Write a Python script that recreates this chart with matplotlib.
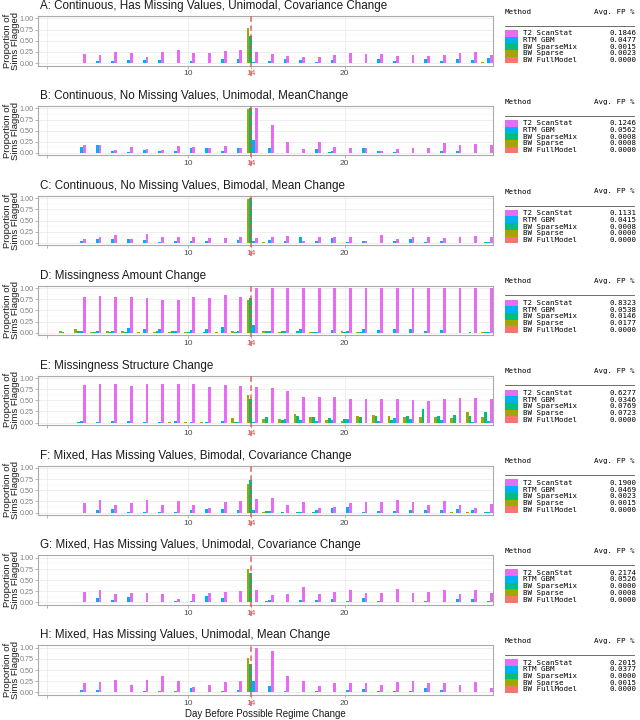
import numpy as np
import matplotlib
matplotlib.use("Agg")
import matplotlib.pyplot as plt
from matplotlib.patches import Rectangle
from matplotlib.lines import Line2D

plt.rcParams['font.family'] = ['Liberation Sans', 'DejaVu Sans']

days = np.arange(1, 30)
methods = ["BW FullModel", "BW Sparse", "BW SparseMix", "RTM GBM", "T2 ScanStat"]
colors = ["#F8766D", "#A3A500", "#00BF7D", "#00B0F6", "#E76BF3"]

titles = [
    "A: Continuous, Has Missing Values, Unimodal, Covariance Change",
    "B: Continuous, No Missing Values, Unimodal, MeanChange",
    "C: Continuous, No Missing Values, Bimodal, Mean Change",
    "D: Missingness Amount Change",
    "E: Missingness Structure Change",
    "F: Mixed, Has Missing Values, Bimodal, Covariance Change",
    "G: Mixed, Has Missing Values, Unimodal, Covariance Change",
    "H: Mixed, Has Missing Values, Unimodal, Mean Change",
]

# T2 ScanStat, days 1..29
scan_a = [0, 0, .20, .18, .25, .22, .13, .25, .29, .22, .22, .27, .29, .25, .20, .16, .13, .13, .18, .22, .20, .20, .16, .18, .16, .18, .22, .24, .17]
scan_b = [0, 0, .17, .17, .07, .13, .08, .07, .15, .13, .10, .16, .10, 1.0, .63, .24, .08, .24, .13, .12, .12, .05, .08, .10, .10, .22, .17, .20, .17]
scan_c = [0, 0, .08, .12, .17, .08, .20, .14, .14, .12, .10, .10, .14, .10, .14, .16, .05, .12, .12, .14, .05, .17, .08, .14, .12, .10, .12, .16, .14]
scan_d = [0, 0, .80, .82, .80, .80, .79, .74, .74, .80, .77, .85, .80, 1, 1, 1, 1, 1, 1, 1, 1, 1, 1, 1, 1, 1, 1, 1, 1]
scan_e = [0, 0, .85, .86, .86, .82, .86, .86, .86, .86, .81, .84, .82, .79, .78, .70, .58, .58, .58, .54, .54, .52, .52, .50, .48, .52, .56, .56, .54]
scan_f = [0, 0, .22, .28, .17, .22, .28, .16, .26, .16, .10, .24, .26, .30, .32, .16, .24, .10, .12, .22, .24, .24, .28, .24, .16, .26, .17, .10, .20]
scan_g = [0, 0, .24, .28, .18, .22, .22, .20, .08, .20, .22, .24, .26, .28, .17, .18, .35, .18, .24, .28, .22, .22, .30, .22, .24, .28, .18, .28, .22]
scan_h = [0, 0, .22, .24, .28, .16, .28, .36, .26, .12, .17, .24, .26, 1.0, .92, .36, .26, .14, .20, .22, .22, .17, .24, .26, .20, .20, .17, .24, .10]

# RTM GBM, days 1..29
gbm_a = [0, 0, .01, .04, .04, .06, .06, .06, .01, .04, 0, .10, .10, .03, .05, .09, .06, .02, .06, .01, .01, .09, .04, .01, .10, .04, .09, .06, .11]
gbm_b = [0, 0, .13, .17, .05, .03, .07, .05, .05, .10, .10, .05, .10, .30, .12, .01, .01, .08, .05, .01, .12, .04, .02, 0, 0, .05, .05, .01, 0]
gbm_c = [0, 0, .04, .08, .08, .08, .06, .01, .04, .05, .04, 0, .06, .05, .06, .04, .12, .04, .10, .01, .04, 0, .04, .08, .01, .04, 0, 0, .01]
gbm_d = [0, 0, .05, .05, .05, .10, .09, .08, .04, .06, .08, .13, .04, .18, .05, .04, .08, .01, .06, .04, .08, .06, .08, .08, .04, .06, 0, 0, .01]
gbm_e = [0, 0, .04, .02, .03, .03, .01, .01, .04, .01, .01, .04, .02, .01, 0, .08, .05, .03, .06, .08, 0, .04, .10, .08, 0, .06, 0, .01, .04]
gbm_f = [0, 0, 0, .05, .08, .01, .01, .01, .01, .05, .08, .08, .06, .05, .04, 0, .01, .05, .10, .12, .01, .04, .04, .05, .06, .06, .08, .06, .01]
gbm_g = [0, 0, .01, .10, .06, .12, .01, .01, .04, .04, .14, .09, 0, .01, .06, 0, .06, .06, .08, .04, .09, .04, .01, .01, .04, .01, .08, .08, .04]
gbm_h = [0, 0, .05, .05, 0, 0, .04, .04, .04, .10, .01, .04, .06, .26, .14, .04, .01, .04, 0, .06, .08, .04, .04, .04, .10, .06, .01, .01, 0]

# BW SparseMix, {day: value}, other days are 0
mix_a = {14: .60, 16: .01, 28: .01, 29: .01}
mix_b = {14: 1.0, 19: .02}
mix_c = {14: 1.0, 29: .01}
mix_d = {2: .01, 3: .03, 4: .01, 5: .02, 6: .01, 8: .04, 9: .04, 10: .01, 11: .01, 13: .01, 14: .78,
         15: .05, 16: .05, 17: .04, 18: .01, 20: .01, 21: .01, 28: .01, 29: .01}
mix_e = {3: .01, 13: .02, 14: .52, 15: .13, 16: .05, 17: .14, 18: .12, 19: .11, 20: .08, 21: .12, 22: .16,
         23: .07, 24: .14, 25: .30, 26: .14, 27: .17, 28: .16, 29: .24}
mix_f = {14: .72, 15: .04, 16: .01, 17: .01, 18: .01, 29: .01}
mix_g = {14: .66, 15: .04, 16: .01}
mix_h = {14: .64}

# BW Sparse
sparse_a = {14: .79, 15: .01, 17: .01, 18: .01, 29: .02}
sparse_b = {12: .01, 14: .98}
sparse_c = {14: .98, 15: .01}
sparse_d = {2: .04, 3: .08, 4: .01, 5: .04, 6: .04, 7: .02, 8: .01, 9: .01, 10: .01, 12: .01, 13: .04, 14: .74,
            15: .04, 16: .01, 18: .01, 20: .03, 21: .01, 29: .01}
sparse_e = {9: .01, 10: .01, 11: .01, 13: .10, 14: .62, 15: .08, 16: .08, 17: .19, 18: .12, 19: .06, 20: .04,
            21: .14, 22: .17, 23: .14, 24: .13, 25: .13, 26: .12, 27: .10, 28: .24, 29: .12}
sparse_f = {14: .64, 15: .01, 27: .01, 28: .01}
sparse_g = {14: .76, 15: .01}
sparse_h = {13: .01, 14: .78, 15: .01, 23: .01}

# BW FullModel never flags
full_all = {}

# Avg. FP % column, order: T2 ScanStat, RTM GBM, BW SparseMix, BW Sparse, BW FullModel
fp_a = ["0.1846", "0.0477", "0.0015", "0.0023", "0.0000"]
fp_b = ["0.1246", "0.0562", "0.0008", "0.0008", "0.0000"]
fp_c = ["0.1131", "0.0415", "0.0008", "0.0000", "0.0000"]
fp_d = ["0.8323", "0.0538", "0.0146", "0.0177", "0.0000"]
fp_e = ["0.6277", "0.0346", "0.0769", "0.0723", "0.0000"]
fp_f = ["0.1900", "0.0469", "0.0023", "0.0015", "0.0000"]
fp_g = ["0.2174", "0.0526", "0.0000", "0.0008", "0.0000"]
fp_h = ["0.2015", "0.0377", "0.0000", "0.0015", "0.0000"]

scans = [scan_a, scan_b, scan_c, scan_d, scan_e, scan_f, scan_g, scan_h]
gbms = [gbm_a, gbm_b, gbm_c, gbm_d, gbm_e, gbm_f, gbm_g, gbm_h]
mixes = [mix_a, mix_b, mix_c, mix_d, mix_e, mix_f, mix_g, mix_h]
sparses = [sparse_a, sparse_b, sparse_c, sparse_d, sparse_e, sparse_f, sparse_g, sparse_h]
fps = [fp_a, fp_b, fp_c, fp_d, fp_e, fp_f, fp_g, fp_h]


def expand(d):
    return [d.get(int(x), 0) for x in days]


W, H = 640, 720
fig = plt.figure(figsize=(W / 100, H / 100), dpi=100)


def fx(px):
    return px / W


def fy(py):
    return 1 - py / H


left, right = 38, 493
ph = 49.5
mono = "DejaVu Sans Mono"
msize = 5.4

for i in range(8):
    top = 16 + 89.9 * i
    ax = fig.add_axes([fx(left), fy(top + ph), (right - left) / W, ph / H])
    series = [expand(full_all), expand(sparses[i]), expand(mixes[i]), gbms[i], scans[i]]
    for k in range(5):
        ax.bar(days + (k - 2) * 0.18, series[k], width=0.18, color=colors[k], lw=0, zorder=2)
    # dashed marker runs down through the "14" tick label
    ax.plot([14, 14], [-0.30, 1.055], color="#D9534F", lw=1.3, ls=(0, (3, 2)), alpha=0.75,
            zorder=3, clip_on=False)

    ax.set_xlim(0.4, 29.47)
    ax.set_ylim(-0.055, 1.055)
    ax.set_yticks([0, .25, .5, .75, 1])
    ax.set_yticklabels(["0.00", "0.25", "0.50", "0.75", "1.00"])
    ax.set_yticks([.125, .375, .625, .875], minor=True)
    ax.set_xticks([1, 10, 14, 20])
    ax.set_xticklabels(["", "10", "14", "20"])
    ax.tick_params(axis="y", labelsize=5.2, labelcolor="#7F7F7F", length=2, width=0.5, color="#999999", pad=1)
    ax.tick_params(axis="x", labelsize=6, labelcolor="#4D4D4D", length=2, width=0.5, color="#999999", pad=1.5)
    ax.tick_params(which="minor", length=0)
    ax.get_xticklabels()[2].set_color("#D9534F")
    ax.grid(which="major", color="#EBEBEB", lw=0.6, zorder=0)
    ax.grid(which="minor", axis="y", color="#F4F4F4", lw=0.35, zorder=0)
    ax.set_axisbelow(True)
    for s in ax.spines.values():
        s.set_color("#AAAAAA")
        s.set_linewidth(0.8)

    fig.text(fx(40), fy(top - 10), titles[i], fontsize=8.4, ha="left", va="center", color="#1A1A1A")
    fig.text(fx(11.5), fy(top + ph / 2), "Proportion of\nSims Flagged", fontsize=6.8, rotation=90,
             ha="center", va="center", linespacing=0.9, color="#1A1A1A")

    # method table on the right
    fig.text(fx(505), fy(top - 4.3), "Method", family=mono, fontsize=msize, ha="left", va="center")
    fig.text(fx(635), fy(top - 4.3), "Avg. FP %", family=mono, fontsize=msize, ha="right", va="center")
    fig.add_artist(Line2D([fx(505), fx(634)], [fy(top + 9.7)] * 2, color="#555555", lw=0.6,
                          transform=fig.transFigure))
    for r in range(5):
        k = 4 - r
        cy = top + 17.3 + 6.7 * r
        fig.add_artist(Rectangle((fx(505), fy(cy + 3.35)), 13 / W, 6.7 / H, color=colors[k], lw=0,
                                 transform=fig.transFigure))
        fig.text(fx(523), fy(cy), methods[k], family=mono, fontsize=msize, ha="left", va="center")
        fig.text(fx(636), fy(cy), fps[i][r], family=mono, fontsize=msize, ha="right", va="center")

fig.text(fx((left + right) / 2), fy(714), "Day Before Possible Regime Change", fontsize=7,
         ha="center", va="center", color="#1A1A1A")

fig.savefig("out.png", dpi=100)
